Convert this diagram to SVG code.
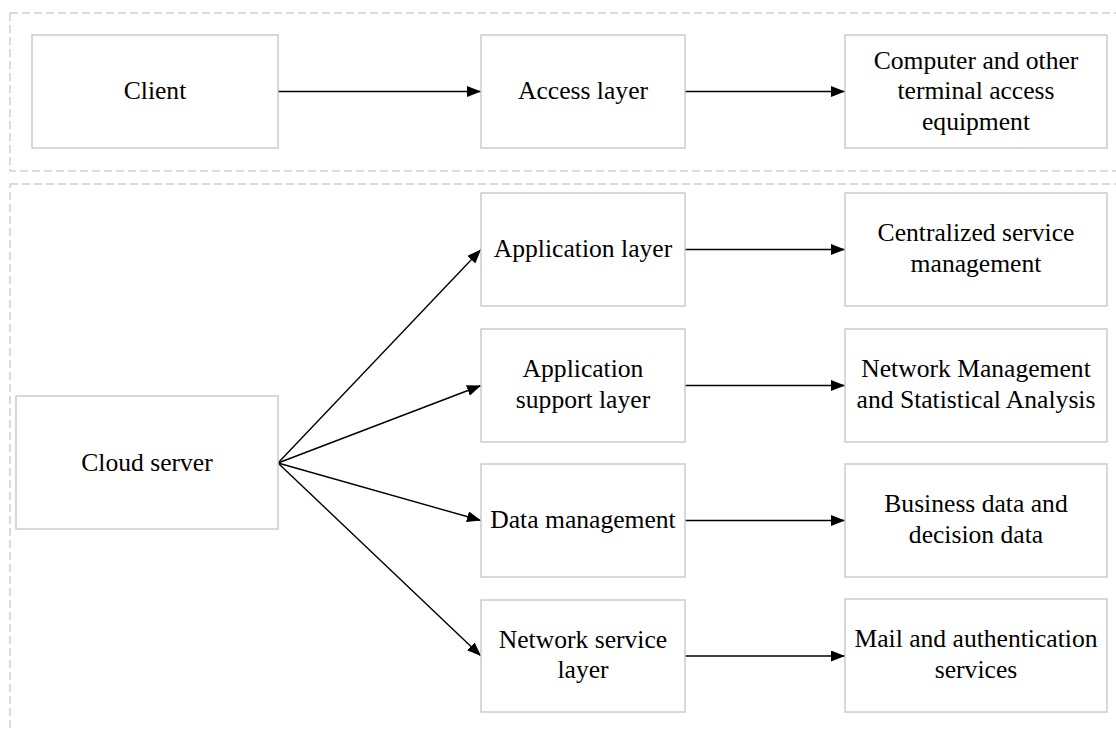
<svg xmlns="http://www.w3.org/2000/svg" width="1116" height="731" viewBox="0 0 1116 731">
<style>
.container{fill:none;stroke:#cfcfcf;stroke-width:1.5;stroke-dasharray:8 4}
.box{fill:#ffffff;stroke:#cccccc;stroke-width:1.5}
.lbl{font-family:"Liberation Serif","Times New Roman",serif;font-size:25.6px;fill:#000000;text-anchor:middle}
.conn{fill:none;stroke:#000000;stroke-width:1.4}
</style>
<defs>
<marker id="arrow" markerUnits="userSpaceOnUse" markerWidth="15" markerHeight="11" refX="14" refY="5.5" orient="auto">
<path d="M0,0 L14,5.5 L0,11 z" fill="#000000"/>
</marker>
</defs>
<rect width="1116" height="731" fill="#ffffff"/>
<rect class="container" x="10" y="13" width="1130" height="158"/>
<rect class="container" x="10" y="184" width="1130" height="570"/>
<g id="connectors">
<line class="conn" x1="278" y1="91.5" x2="481" y2="91.5" marker-end="url(#arrow)"/>
<line class="conn" x1="685" y1="91.5" x2="845" y2="91.5" marker-end="url(#arrow)"/>
<line class="conn" x1="278" y1="463" x2="481" y2="249.5" marker-end="url(#arrow)"/>
<line class="conn" x1="278" y1="463" x2="481" y2="385.5" marker-end="url(#arrow)"/>
<line class="conn" x1="278" y1="463" x2="481" y2="520.5" marker-end="url(#arrow)"/>
<line class="conn" x1="278" y1="463" x2="481" y2="656" marker-end="url(#arrow)"/>
<line class="conn" x1="685" y1="249.5" x2="845" y2="249.5" marker-end="url(#arrow)"/>
<line class="conn" x1="685" y1="385.5" x2="845" y2="385.5" marker-end="url(#arrow)"/>
<line class="conn" x1="685" y1="520.5" x2="845" y2="520.5" marker-end="url(#arrow)"/>
<line class="conn" x1="685" y1="656" x2="845" y2="656" marker-end="url(#arrow)"/>
</g>
<g id="client">
<rect class="box" x="32" y="35" width="246" height="113"/>
<text class="lbl" x="155" y="99">Client</text>
</g>
<g id="access-layer">
<rect class="box" x="481" y="35" width="204" height="113"/>
<text class="lbl" x="583" y="99">Access layer</text>
</g>
<g id="terminal-equipment">
<rect class="box" x="845" y="35" width="262" height="113"/>
<text class="lbl" x="976" y="68.5">Computer and other</text>
<text class="lbl" x="976" y="99">terminal access</text>
<text class="lbl" x="976" y="129.5">equipment</text>
</g>
<g id="cloud-server">
<rect class="box" x="16" y="396" width="262" height="133"/>
<text class="lbl" x="147" y="470.5">Cloud server</text>
</g>
<g id="application-layer">
<rect class="box" x="481" y="193" width="204" height="113"/>
<text class="lbl" x="583" y="257">Application layer</text>
</g>
<g id="application-support-layer">
<rect class="box" x="481" y="329" width="204" height="113"/>
<text class="lbl" x="583" y="377.3">Application</text>
<text class="lbl" x="583" y="407.8">support layer</text>
</g>
<g id="data-management">
<rect class="box" x="481" y="464" width="204" height="113"/>
<text class="lbl" x="583" y="528">Data management</text>
</g>
<g id="network-service-layer">
<rect class="box" x="481" y="600" width="204" height="112"/>
<text class="lbl" x="583" y="647.8">Network service</text>
<text class="lbl" x="583" y="678.3">layer</text>
</g>
<g id="centralized-service-management">
<rect class="box" x="845" y="193" width="262" height="113"/>
<text class="lbl" x="976" y="241.3">Centralized service</text>
<text class="lbl" x="976" y="271.8">management</text>
</g>
<g id="network-management-analysis">
<rect class="box" x="845" y="329" width="262" height="113"/>
<text class="lbl" x="976" y="377">Network Management</text>
<text class="lbl" x="976" y="407.5">and Statistical Analysis</text>
</g>
<g id="business-decision-data">
<rect class="box" x="845" y="464" width="262" height="113"/>
<text class="lbl" x="976" y="512.3">Business data and</text>
<text class="lbl" x="976" y="542.8">decision data</text>
</g>
<g id="mail-authentication">
<rect class="box" x="845" y="599" width="262" height="113"/>
<text class="lbl" x="976" y="647.3">Mail and authentication</text>
<text class="lbl" x="976" y="677.8">services</text>
</g>
</svg>
